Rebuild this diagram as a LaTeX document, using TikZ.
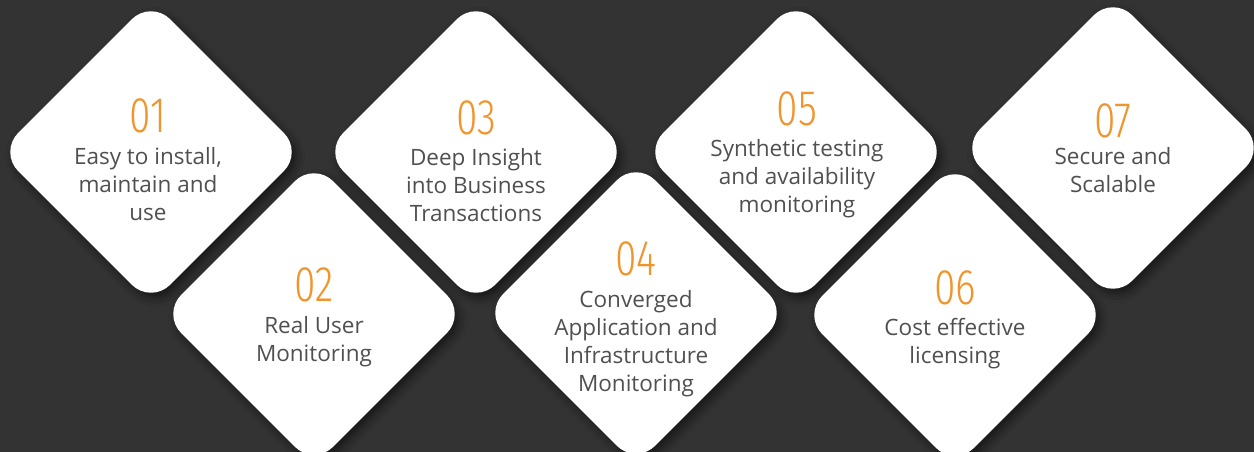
\documentclass[tikz,border=0pt]{standalone}
\usepackage{fontspec}
\usetikzlibrary{shapes.geometric,shadows.blur}
\setmainfont{Open Sans}
% light condensed figures for the step numbers
\IfFontExistsTF{Fira Sans Condensed Light}
  {\newfontfamily\numfont{Fira Sans Condensed Light}[FakeStretch=0.85]}
  {\IfFontExistsTF{Fira Sans Light}
    {\newfontfamily\numfont{Fira Sans Light}[FakeStretch=0.72]}
    {\newfontfamily\numfont{Liberation Sans}[FakeStretch=0.7]}}
\definecolor{bgdark}{HTML}{333333}
\definecolor{stepnum}{HTML}{F0952B}
\definecolor{steptext}{HTML}{505050}
\begin{document}
\begin{tikzpicture}[x=1pt,y=-1pt,
  card/.style={diamond, aspect=1, minimum width=304pt, minimum height=304pt,
    inner sep=0pt, fill=white, rounded corners=27pt,
    blur shadow={shadow xshift=4pt, shadow yshift=-5pt,
      shadow blur radius=9pt, shadow opacity=55}},
  num/.style={anchor=base, inner sep=0pt, text=stepnum,
    font=\numfont\fontsize{50}{50}\selectfont},
  txt/.style={anchor=north, inner sep=0pt, align=center, text=steptext,
    font=\fontsize{22.5}{28}\selectfont}]
  % background and page size
  \fill[bgdark] (0,0) rectangle (1254,452);
  \useasboundingbox (0,0) rectangle (1254,452);

  % top row of cards
  \node[card] (d1) at (151,152) {};
  \node[card] (d3) at (476,152) {};
  \node[card] (d5) at (796,152) {};
  \node[card] (d7) at (1113,148) {};
  % bottom row of cards
  \node[card] (d2) at (314,314) {};
  \node[card] (d4) at (636,313) {};
  \node[card] (d6) at (955,315) {};

  % numbers and captions
  \node[num] (n1) at (148,132.5) {01};
  \node[txt] (t1) at (148,147) {Easy to install,\\maintain and\\use};

  \node[num] (n2) at (314,301.5) {02};
  \node[txt] (t2) at (314,316) {Real User\\Monitoring};

  \node[num] (n3) at (476,134.5) {03};
  \node[txt] (t3) at (476,148) {Deep Insight\\into Business\\Transactions};

  \node[num] (n4) at (636,275.5) {04};
  \node[txt] (t4) at (636,290) {Converged\\Application and\\Infrastructure\\Monitoring};

  \node[num] (n5) at (797,125.5) {05};
  \node[txt] (t5) at (797,139) {Synthetic testing\\and availability\\monitoring};

  \node[num] (n6) at (955,304.5) {06};
  \node[txt] (t6) at (955,318) {Cost effective\\licensing};

  \node[num] (n7) at (1113,137.5) {07};
  \node[txt] (t7) at (1113,147) {Secure and\\Scalable};
\end{tikzpicture}
\end{document}
